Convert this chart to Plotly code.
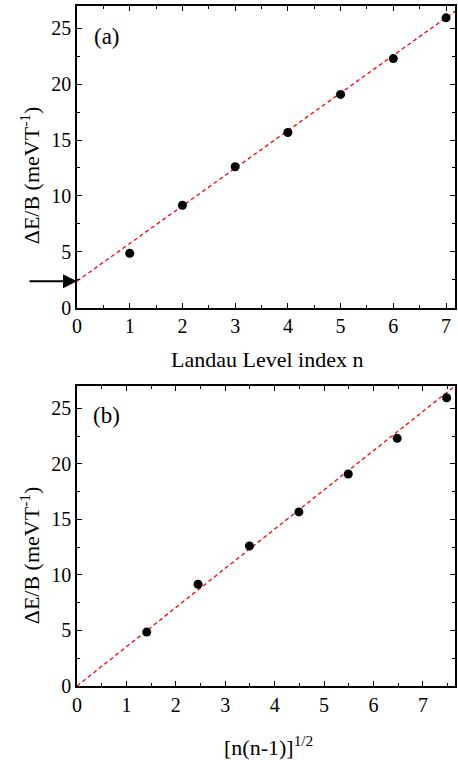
import plotly.graph_objects as go

# Landau level index and measured level spacing per field
n_index = [1, 2, 3, 4, 5, 6, 7]
dE_over_B = [4.85, 9.16, 12.60, 15.67, 19.08, 22.29, 25.94]
# same spacings against [n(n-1)]^(1/2)
sqrt_nn = [1.41, 2.45, 3.49, 4.49, 5.49, 6.48, 7.48]

# linear fits (intercept, slope)
fit_a = (2.36, 3.37)
fit_b = (0.0, 3.53)

x_range_a = [0, 7.17]
x_range_b = [0, 7.65]
y_range = [0, 27]

FONT = "Liberation Serif"
W, H = 458, 760
ML, MR, MT, MB = 77, 1, 6, 74


def px_x(p):
    return (p - ML) / (W - ML - MR)


def px_y(p):
    return (H - MB - p) / (H - MT - MB)


fig = go.Figure()

marker = dict(color="black", size=9)
fit_line = dict(color="red", width=1.3, dash="4px,3px")

fa_x = list(x_range_a)
fig.add_trace(go.Scatter(x=fa_x, y=[fit_a[0] + fit_a[1] * v for v in fa_x],
                         mode="lines", line=fit_line, xaxis="x", yaxis="y",
                         showlegend=False, hoverinfo="skip"))
fig.add_trace(go.Scatter(x=n_index, y=dE_over_B, mode="markers", marker=marker,
                         xaxis="x", yaxis="y", showlegend=False))

fb_x = list(x_range_b)
fig.add_trace(go.Scatter(x=fb_x, y=[fit_b[0] + fit_b[1] * v for v in fb_x],
                         mode="lines", line=fit_line, xaxis="x2", yaxis="y2",
                         showlegend=False, hoverinfo="skip"))
fig.add_trace(go.Scatter(x=sqrt_nn, y=dE_over_B, mode="markers", marker=marker,
                         xaxis="x2", yaxis="y2", showlegend=False))

axis_style = dict(
    showline=True, linecolor="black", linewidth=1.5, mirror="allticks",
    ticks="inside", ticklen=5, tickwidth=1.2, tickcolor="black",
    showgrid=False, zeroline=False,
    tickfont=dict(family=FONT, size=20, color="black"),
)

top_lo = px_y(307.5)
bot_hi = px_y(386)

fig.update_layout(
    width=W, height=H,
    margin=dict(l=ML, r=MR, t=MT, b=MB),
    paper_bgcolor="white", plot_bgcolor="white",
    font=dict(family=FONT, size=20, color="black"),
    xaxis=dict(domain=[0, 1], anchor="y", range=x_range_a, dtick=1,
               minor=dict(dtick=0.5, ticks="inside", ticklen=3, tickcolor="black"),
               **axis_style),
    yaxis=dict(domain=[top_lo, 1], anchor="x", range=y_range, dtick=5,
               minor=dict(dtick=2.5, ticks="inside", ticklen=3, tickcolor="black"),
               **axis_style),
    xaxis2=dict(domain=[0, 1], anchor="y2", range=x_range_b, dtick=1,
                minor=dict(dtick=0.5, ticks="inside", ticklen=3, tickcolor="black"),
                **axis_style),
    yaxis2=dict(domain=[0, bot_hi], anchor="x2", range=y_range, dtick=5,
                minor=dict(dtick=2.5, ticks="inside", ticklen=3, tickcolor="black"),
                **axis_style),
)

title_font = dict(family=FONT, size=22, color="black")
panel_font = dict(family=FONT, size=23, color="black")
ylabel = "ΔE/B (meVT<sup>-1</sup>)"

fig.add_annotation(text=ylabel, textangle=-90, xref="paper", yref="paper",
                   x=px_x(30), y=px_y(175), xanchor="center", yanchor="middle",
                   showarrow=False, font=title_font)
fig.add_annotation(text=ylabel, textangle=-90, xref="paper", yref="paper",
                   x=px_x(30), y=px_y(555), xanchor="center", yanchor="middle",
                   showarrow=False, font=title_font)
fig.add_annotation(text="Landau Level index n", xref="paper", yref="paper",
                   x=px_x(268), y=px_y(360), xanchor="center", yanchor="middle",
                   showarrow=False, font=title_font)
fig.add_annotation(text="[n(n-1)]<sup>1/2</sup>", xref="paper", yref="paper",
                   x=px_x(270), y=px_y(746), xanchor="center", yanchor="middle",
                   showarrow=False, font=title_font)
fig.add_annotation(text="(a)", xref="paper", yref="paper",
                   x=px_x(107), y=px_y(37), xanchor="center", yanchor="middle",
                   showarrow=False, font=panel_font)
fig.add_annotation(text="(b)", xref="paper", yref="paper",
                   x=px_x(107), y=px_y(415), xanchor="center", yanchor="middle",
                   showarrow=False, font=panel_font)

# arrow marking the intercept of the fit in panel (a)
fig.add_annotation(x=0, y=fit_a[0], xref="x", yref="y", text="",
                   showarrow=True, ax=-49, ay=0, arrowhead=2, arrowsize=1.4,
                   arrowwidth=2, arrowcolor="black", standoff=0)

fig.write_html("out.html")
